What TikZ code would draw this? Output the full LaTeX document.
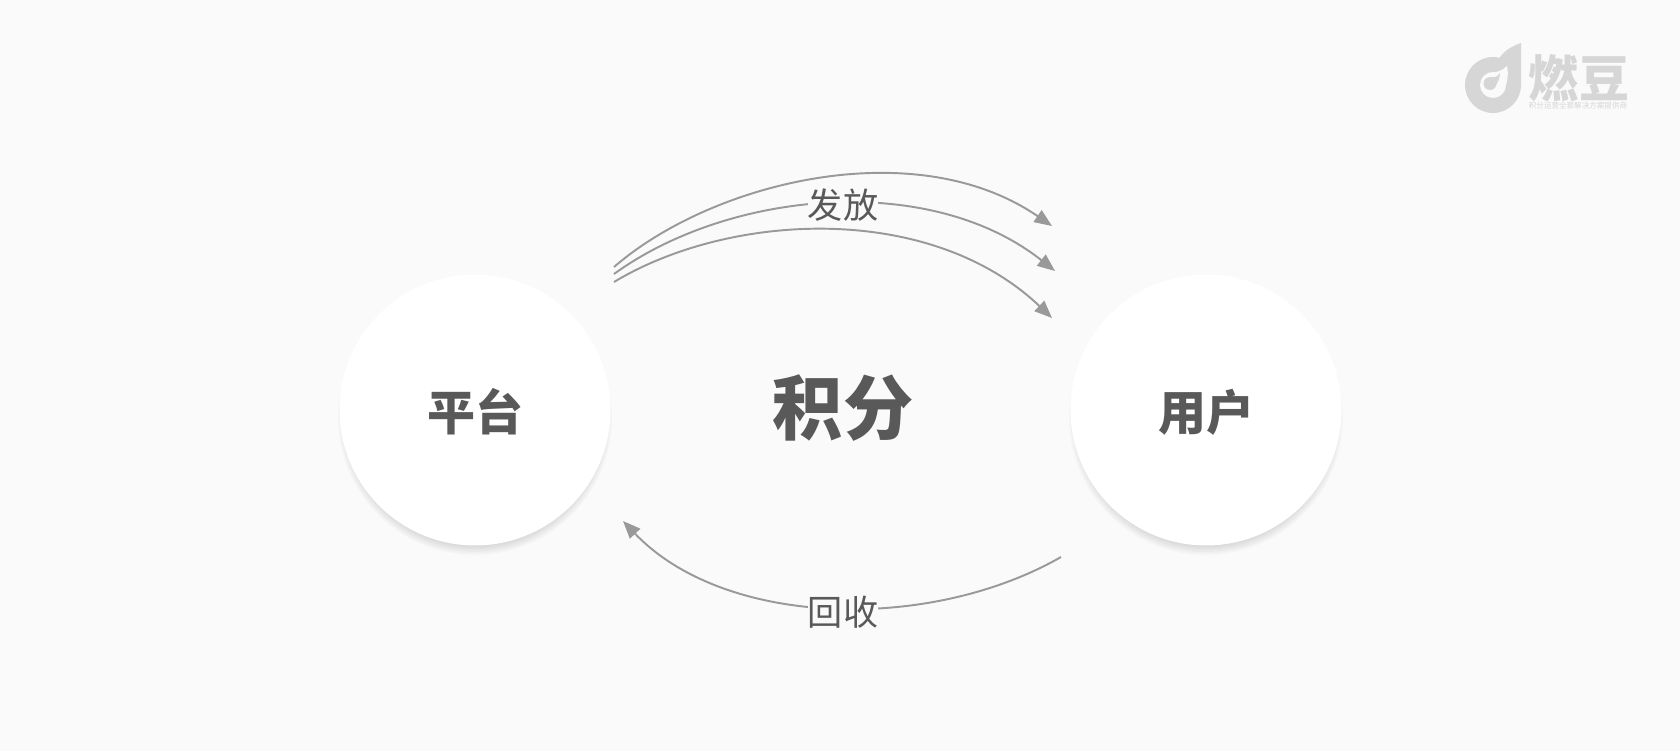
\documentclass[tikz,border=0pt]{standalone}
\usepackage{fontspec}
\usepackage{xcolor}
\usetikzlibrary{arrows.meta}
\setmainfont{Noto Sans CJK SC}
\newfontfamily\cjkblack{Noto Sans CJK SC}[UprightFont=* Black]
\definecolor{bgc}{HTML}{FAFAFA}
\definecolor{txtc}{HTML}{595959}
\definecolor{linec}{HTML}{999999}
\definecolor{logoc}{HTML}{D6D6D6}

\begin{document}
\begin{tikzpicture}[x=0.02cm,y=-0.02cm,
    f/.style={-{Triangle[length=10pt,width=8pt]},line width=1.1pt,color=linec},%
    s/.style={circle,fill=white,minimum size=5.42cm,inner sep=0pt,text=txtc,text height=26pt,text depth=3pt,font=\cjkblack\fontsize{27.3}{27.3}\selectfont},%
    p/.style={fill=bgc,inner sep=0pt,text=txtc,font=\fontsize{20}{20}\selectfont}]
    \fill[bgc] (0,0) rectangle (1680,751);
    \useasboundingbox (0,0) rectangle (1680,751);
    % shadows under the circles
    \foreach \cx in {475,1206}{
      \foreach \r in {122,123.5,...,137}{
        \fill[black,opacity=0.018] (\cx,418) circle[radius=\r];
      }
    }
    \node[s] (plat) at (475,410) {平台};
    \node[s] (user) at (1206,410) {用户};
    \node[text=txtc,font=\cjkblack\fontsize{40}{40}\selectfont] (jifen) at (843,408) {积分};

    \coordinate (a1) at (614,267);
    \coordinate (a2) at (614,274);
    \coordinate (a3) at (614,282);
    \coordinate (b1) at (1052,226);
    \coordinate (b2) at (1055,271);
    \coordinate (b3) at (1052,318);
    \coordinate (c1) at (1061,557);
    \coordinate (c2) at (623,521);

    \draw[f] (a1) .. controls (712,182) and (915,132) .. (b1);
    \draw[f] (a2) .. controls (730,190) and (930,172) .. (b2);
    \draw[f] (a3) .. controls (730,212) and (930,202) .. (b3);
    \draw[f] (c1) .. controls (930,632) and (725,628) .. (c2);
    \node[p] (fafang) at (843,205) {发放};
    \node[p] (huishou) at (843,612) {回收};

    % logo
    \fill[logoc] (1493,85) circle[radius=28];
    \fill[logoc] (1521,43) -- (1521,85) -- (1494,70) .. controls (1498,56) and (1506,48) .. (1521,43) -- cycle;
    \fill[bgc] (1493,85) circle[radius=13];
    \fill[bgc] (1488,73) .. controls (1496,73) and (1502,71) .. (1507,66) .. controls (1509,75) and (1507,83) .. (1504,91) -- cycle;
    \fill[logoc] (1490,83.5) circle[radius=6.5];
    \fill[logoc] (1491,77) .. controls (1495,78) and (1498,76) .. (1500,73) .. controls (1500,78) and (1498,82) .. (1496,85) -- cycle;
    \node[text=logoc,font=\cjkblack\fontsize{28.5}{28.5}\selectfont,inner sep=0pt] (logoname) at (1579,78) {燃豆};
    \node[text=logoc,font=\fontsize{4.3}{5}\selectfont,inner sep=0pt] (logosub) at (1578,106) {积分运营全套解决方案提供商};
\end{tikzpicture}
\end{document}
